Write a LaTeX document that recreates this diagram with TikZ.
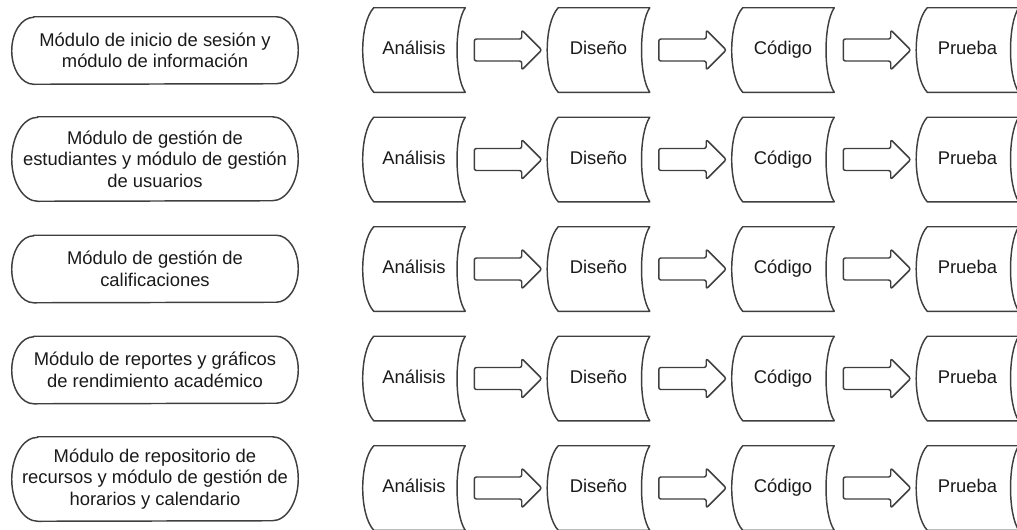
\documentclass[tikz,border=0pt]{standalone}
\usepackage{fontspec}
\setmainfont{Liberation Sans}
\usetikzlibrary{calc}
\definecolor{edge}{HTML}{3F3F3F}
\definecolor{ink}{HTML}{1A1A1A}

% stored-data shape around a stage node: convex left side, concave right side
\newcommand\drawstage[1]{%
  \draw[outline] ($(#1.north west)+(11,0)$) -- (#1.north east)
    .. controls ($(#1.north east)+(-11,16)$) and ($(#1.south east)+(-11,-16)$) .. (#1.south east)
    -- ($(#1.south west)+(11,0)$)
    .. controls ($(#1.south west)+(-3.7,-16)$) and ($(#1.north west)+(-3.7,16)$) .. ($(#1.north west)+(11,0)$)
    -- cycle;}

% pill outline with half-ellipse ends: #2 = end x radius, #3 = half height
\newcommand\drawmodule[3]{%
  \draw[outline] ($(#1.north west)+(#2,0)$) -- ($(#1.north east)+(-#2,0)$)
    arc[start angle=-90, end angle=90, x radius=#2, y radius=#3]
    -- ($(#1.south west)+(#2,0)$)
    arc[start angle=90, end angle=270, x radius=#2, y radius=#3] -- cycle;}

% block arrow from one stage to the next
\newcommand\drawflow[2]{%
  \draw[blockarrow] ($(#1.east)+(9,-11)$) -- ($(#2.west)+(-25.5,-11)$)
    -- ($(#2.west)+(-25.5,-20)$) -- ($(#2.west)+(-5.5,0)$)
    -- ($(#2.west)+(-25.5,20)$) -- ($(#2.west)+(-25.5,11)$)
    -- ($(#1.east)+(9,11)$) -- cycle;}

\begin{document}
\begin{tikzpicture}[x=0.75pt,y=-0.75pt,
  outline/.style={draw=edge, line width=1.1pt, line join=round},
  label/.style={text=ink, font=\fontsize{13.8}{16.1}\selectfont, align=center, inner sep=0pt},
  stage/.style={label, minimum width=76.5pt, minimum height=63pt, text height=10pt, text depth=3pt},
  module/.style={label, minimum width=214.5pt},
  blockarrow/.style={outline, rounded corners=1.6pt}]
\useasboundingbox (0,0) rectangle (1017,529);

% module descriptions
\node[module, minimum height=50.25pt] (m1) at (155,50.5)
  {Módulo de inicio de sesión y\\módulo de información};
\node[module, minimum height=63pt] (m2) at (155,159)
  {Módulo de gestión de\\estudiantes y módulo de gestión\\de usuarios};
\node[module, minimum height=50.25pt] (m3) at (155,269)
  {Módulo de gestión de\\calificaciones};
\node[module, minimum height=50.25pt] (m4) at (155,370)
  {Módulo de reportes y gráficos\\de rendimiento académico};
\node[module, minimum height=63pt] (m5) at (155,479)
  {Módulo de repositorio de\\recursos y módulo de gestión de\\horarios y calendario};

\drawmodule{m1}{22}{33.5}
\drawmodule{m2}{26}{42}
\drawmodule{m3}{22}{33.5}
\drawmodule{m4}{22}{33.5}
\drawmodule{m5}{26}{42}

% development stages per module
\foreach \r/\y in {1/50, 2/159.5, 3/269, 4/378.5, 5/488} {
  \node[stage] (a\r) at (414,\y) {Análisis};
  \node[stage] (d\r) at (598.5,\y) {Diseño};
  \node[stage] (c\r) at (783,\y) {Código};
  \node[stage] (p\r) at (967.5,\y) {Prueba};
  \drawstage{a\r}
  \drawstage{d\r}
  \drawstage{c\r}
  \drawstage{p\r}
  \drawflow{a\r}{d\r}
  \drawflow{d\r}{c\r}
  \drawflow{c\r}{p\r}
}
\end{tikzpicture}
\end{document}
